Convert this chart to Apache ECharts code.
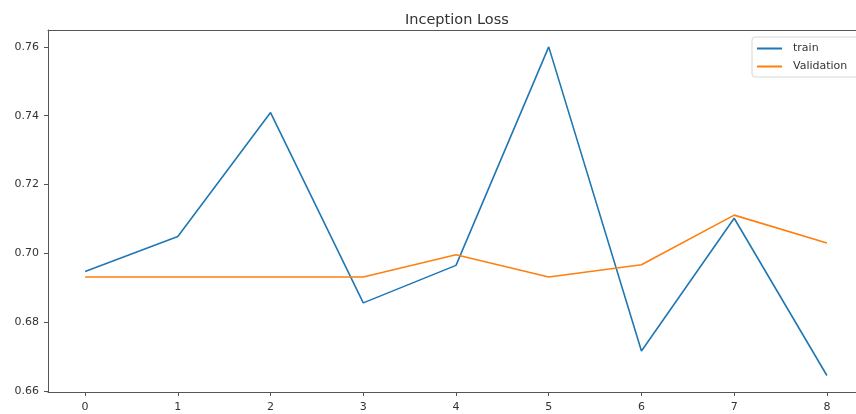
<!DOCTYPE html>
<html>
<head>
<meta charset="utf-8">
<script src="https://cdn.jsdelivr.net/npm/echarts@6/dist/echarts.min.js"></script>
<style>
  html, body { margin: 0; padding: 0; background: #fff; overflow: hidden; }
  #chart { width: 866px; height: 414px; }
</style>
</head>
<body>
<div id="chart"></div>
<script>
// epochs and loss values
var epochs = [0, 1, 2, 3, 4, 5, 6, 7, 8];
var trainLoss = [0.6947, 0.7049, 0.7409, 0.6856, 0.6965, 0.7600, 0.6716, 0.7102, 0.6645];
var valLoss = [0.6931, 0.6931, 0.6931, 0.6931, 0.6996, 0.6931, 0.6967, 0.7111, 0.7030];
var yTicks = [0.66, 0.68, 0.70, 0.72, 0.74, 0.76];

function pairs(xs, ys) {
  return xs.map(function (x, i) { return [x, ys[i]]; });
}

// the figure is cut off on the right, so the chart is a bit wider than the window
var myChart = echarts.init(document.getElementById('chart'));
var axisCol = '#555';
var labelStyle = { color: '#333', fontSize: 11, fontFamily: 'DejaVu Sans' };

var option = {
  backgroundColor: '#fff',
  animation: false,
  title: {
    text: 'Inception Loss',
    left: 400,
    top: 8,
    textStyle: { fontSize: 14.5, fontWeight: 'normal', color: '#333', fontFamily: 'DejaVu Sans' }
  },
  legend: {
    orient: 'vertical',
    left: 752,
    top: 37,
    padding: [6, 12, 5, 5],
    icon: 'rect',
    itemWidth: 25,
    itemHeight: 2,
    itemGap: 7,
    backgroundColor: '#fff',
    borderColor: '#d6d6d6',
    borderWidth: 1,
    borderRadius: 3,
    textStyle: { color: '#333', fontSize: 11, fontFamily: 'DejaVu Sans', padding: [0, 0, 0, 6] },
    data: ['train', 'Validation']
  },
  grid: { left: 48, top: 30, right: 2, bottom: 22 },
  xAxis: [{
    type: 'value',
    min: -0.4,
    max: 8.4,
    splitLine: { show: false },
    axisLine: { show: true, onZero: false, lineStyle: { color: axisCol, width: 1 } },
    axisTick: { show: true, length: 4, lineStyle: { color: axisCol }, customValues: epochs },
    axisLabel: Object.assign({ margin: 10, customValues: epochs }, labelStyle)
  }, {
    type: 'value',
    position: 'top',
    min: -0.4,
    max: 8.4,
    splitLine: { show: false },
    axisLine: { show: true, onZero: false, lineStyle: { color: axisCol, width: 1 } },
    axisTick: { show: false },
    axisLabel: { show: false }
  }],
  yAxis: {
    type: 'value',
    min: 0.6597,
    max: 0.7649,
    splitLine: { show: false },
    axisLine: { show: true, onZero: false, lineStyle: { color: axisCol, width: 1 } },
    axisTick: { show: true, length: 4, lineStyle: { color: axisCol }, customValues: yTicks },
    axisLabel: Object.assign({
      margin: 9,
      customValues: yTicks,
      formatter: function (v) { return v.toFixed(2); }
    }, labelStyle)
  },
  series: [{
    name: 'train',
    type: 'line',
    symbol: 'none',
    lineStyle: { color: '#1f77b4', width: 1.6 },
    itemStyle: { color: '#1f77b4' },
    data: pairs(epochs, trainLoss)
  }, {
    name: 'Validation',
    type: 'line',
    symbol: 'none',
    lineStyle: { color: '#ff7f0e', width: 1.6 },
    itemStyle: { color: '#ff7f0e' },
    data: pairs(epochs, valLoss)
  }]
};
myChart.setOption(option);
</script>
</body>
</html>
